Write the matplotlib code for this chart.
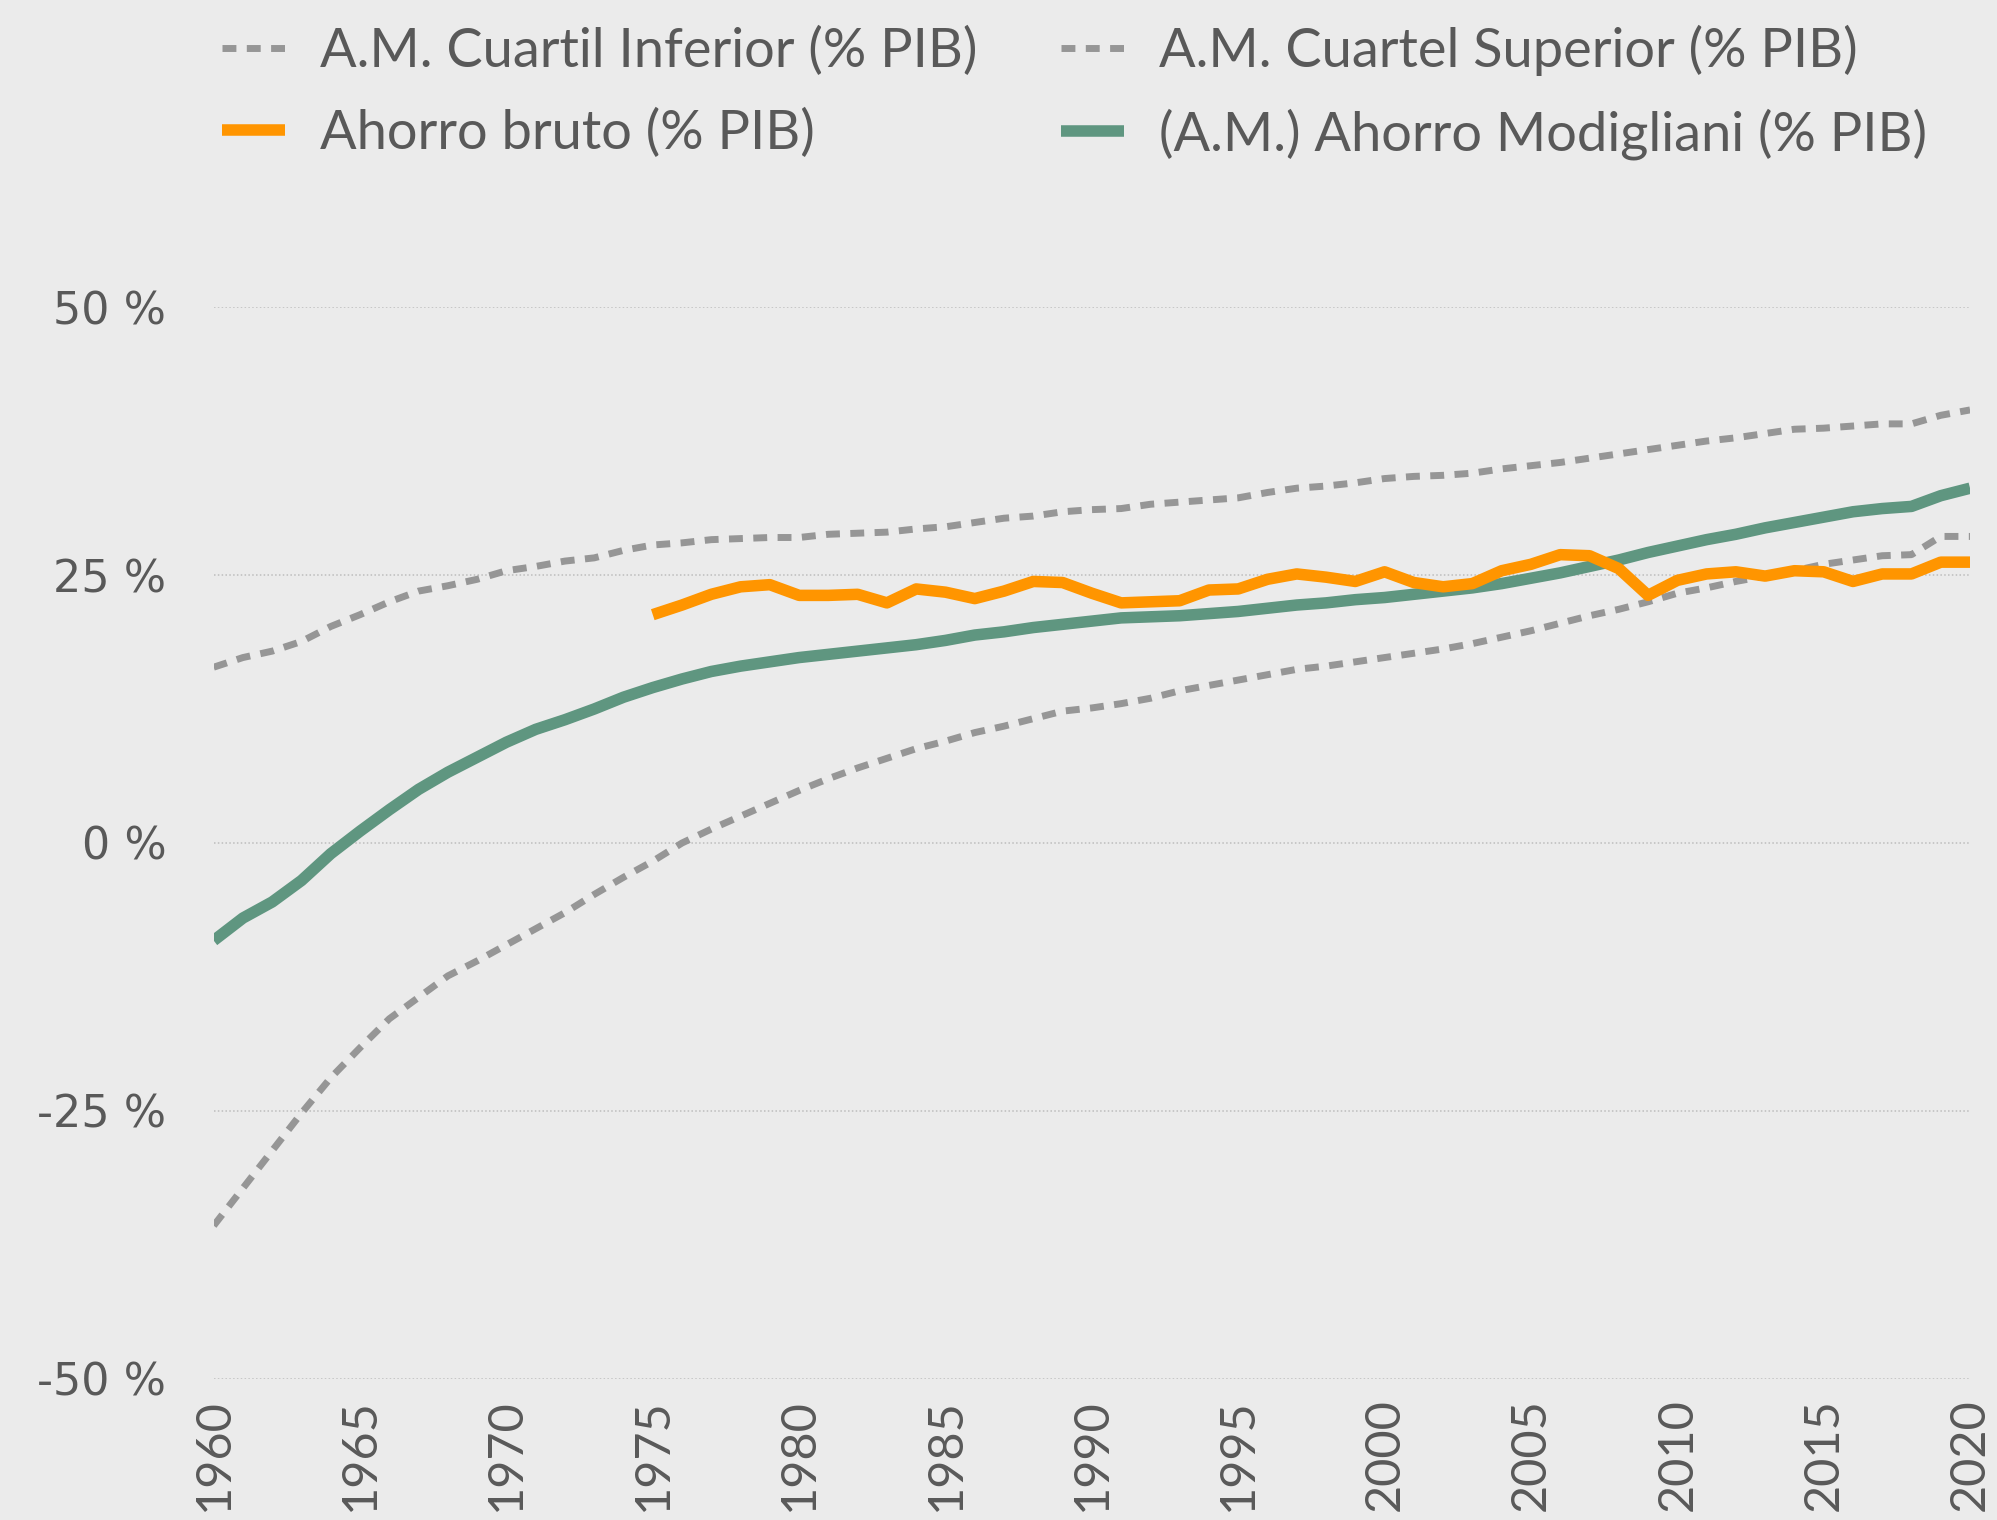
import matplotlib
matplotlib.use('Agg')
import matplotlib.pyplot as plt

years = list(range(1960, 2021))

# A.M. Cuartil Inferior (% PIB)
cuartil_inferior = [-35.7, -32.2, -28.7, -25.2, -21.9, -19.1, -16.4, -14.4, -12.4, -11.0,
                    -9.5, -8.0, -6.5, -4.8, -3.2, -1.7, 0.0, 1.3, 2.5, 3.7,
                    4.9, 6.0, 7.0, 7.9, 8.8, 9.5, 10.3, 10.9, 11.6, 12.3,
                    12.6, 13.0, 13.5, 14.2, 14.7, 15.2, 15.7, 16.2, 16.5, 16.9,
                    17.3, 17.7, 18.1, 18.6, 19.2, 19.8, 20.5, 21.2, 21.8, 22.5,
                    23.3, 23.8, 24.4, 24.9, 25.4, 26.0, 26.4, 26.8, 26.9, 28.6,
                    28.6]

# A.M. Cuartel Superior (% PIB)
cuartil_superior = [16.4, 17.3, 17.9, 18.8, 20.2, 21.3, 22.5, 23.5, 24.0, 24.6,
                    25.4, 25.8, 26.3, 26.6, 27.3, 27.8, 28.0, 28.3, 28.4, 28.5,
                    28.5, 28.8, 28.9, 29.0, 29.3, 29.5, 29.9, 30.3, 30.5, 30.9,
                    31.1, 31.2, 31.6, 31.8, 32.0, 32.2, 32.7, 33.1, 33.3, 33.6,
                    34.0, 34.2, 34.3, 34.5, 34.9, 35.2, 35.5, 35.9, 36.3, 36.7,
                    37.1, 37.5, 37.8, 38.2, 38.6, 38.7, 38.9, 39.1, 39.1, 39.9,
                    40.4]

# (A.M.) Ahorro Modigliani (% PIB)
modigliani = [-9.1, -7.0, -5.5, -3.5, -1.0, 1.1, 3.1, 5.0, 6.6, 8.0,
              9.4, 10.6, 11.5, 12.5, 13.6, 14.5, 15.3, 16.0, 16.5, 16.9,
              17.3, 17.6, 17.9, 18.2, 18.5, 18.9, 19.4, 19.7, 20.1, 20.4,
              20.7, 21.0, 21.1, 21.2, 21.4, 21.6, 21.9, 22.2, 22.4, 22.7,
              22.9, 23.2, 23.5, 23.8, 24.2, 24.7, 25.2, 25.8, 26.4, 27.1,
              27.7, 28.3, 28.8, 29.4, 29.9, 30.4, 30.9, 31.2, 31.4, 32.4,
              33.1]

# Ahorro bruto (% PIB), desde 1975
years_bruto = list(range(1975, 2021))
ahorro_bruto = [21.3, 22.2, 23.2, 23.9, 24.1, 23.1, 23.1, 23.2, 22.4, 23.7,
                23.4, 22.8, 23.5, 24.4, 24.3, 23.3, 22.4, 22.5, 22.6, 23.6,
                23.7, 24.6, 25.1, 24.8, 24.4, 25.3, 24.3, 23.9, 24.2, 25.4,
                26.0, 26.9, 26.8, 25.6, 23.1, 24.5, 25.1, 25.3, 24.9, 25.4,
                25.3, 24.4, 25.1, 25.1, 26.2, 26.2]

y_ticks = [-50, -25, 0, 25, 50]
x_ticks = list(range(1960, 2021, 5))

bg = '#EBEBEB'
txt = '#595959'
narrow = ['Lato', 'DejaVu Sans']

fig = plt.figure(figsize=(19.97, 15.2), dpi=100, facecolor=bg)
ax = fig.add_axes([0.107, 0.0928, 0.8795, 0.7052])
ax.set_facecolor(bg)

ax.plot(years, cuartil_inferior, color='#969696', lw=5, dashes=(2.0, 1.5),
        label='A.M. Cuartil Inferior (% PIB)')
ax.plot(years, cuartil_superior, color='#969696', lw=5, dashes=(2.0, 1.5),
        label='A.M. Cuartel Superior (% PIB)')
ax.plot(years, modigliani, color='#5F9680', lw=8.3, solid_capstyle='butt',
        label='(A.M.) Ahorro Modigliani (% PIB)')
ax.plot(years_bruto, ahorro_bruto, color='#FF9500', lw=8.3, solid_capstyle='butt',
        label='Ahorro bruto (% PIB)')

ax.set_xlim(1960, 2020)
ax.set_ylim(-50, 50)
ax.set_yticks(y_ticks)
ax.set_yticklabels([f'{v} %' for v in y_ticks], fontsize=32, color=txt,
                   family='DejaVu Sans')
ax.set_xticks(x_ticks)
ax.set_xticklabels([str(v) for v in x_ticks], rotation=90, fontsize=35,
                   color=txt, family=narrow)
ax.tick_params(axis='both', length=0)
ax.tick_params(axis='y', pad=34)
ax.tick_params(axis='x', pad=14)
ax.grid(axis='y', color='#BDBDBD', lw=1.1, ls=(0, (1, 1.5)))
ax.set_axisbelow(True)
for s in ax.spines.values():
    s.set_visible(False)

h, l = ax.get_legend_handles_labels()
order = [0, 3, 1, 2]
leg = fig.legend([h[i] for i in order], [l[i] for i in order], ncol=2,
                 loc='upper left', bbox_to_anchor=(0.087, 1.016), frameon=False,
                 prop={'family': narrow, 'size': 39},
                 handlelength=1.15, handletextpad=0.65, columnspacing=1.55,
                 labelspacing=0.6)
for t in leg.get_texts():
    t.set_color(txt)

fig.savefig('out.png', dpi=100, facecolor=bg)
